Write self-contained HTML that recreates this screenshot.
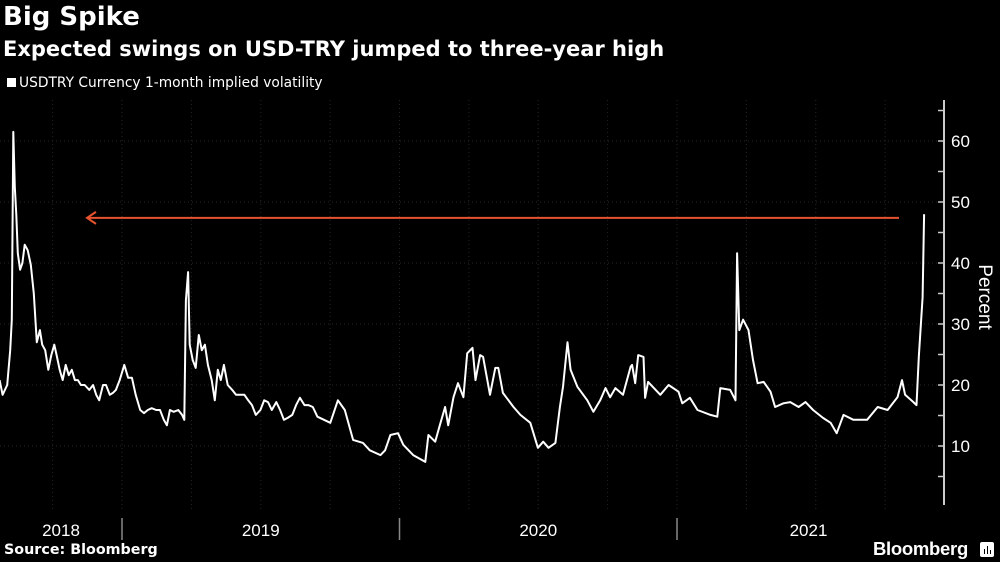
<!DOCTYPE html>
<html><head><meta charset="utf-8">
<style>
html,body{margin:0;padding:0;background:#000;}
body{width:1000px;height:562px;overflow:hidden;position:relative;font-family:"Liberation Sans",sans-serif;color:#fff;}
.t{position:absolute;white-space:nowrap;}
</style></head>
<body>
<div class="t" style="left:3px;top:2px;font-size:26px;font-weight:bold;font-family:'DejaVu Sans',sans-serif;">Big Spike</div>
<div class="t" style="left:3px;top:37px;font-size:21px;font-weight:bold;font-family:'DejaVu Sans',sans-serif;">Expected swings on USD-TRY jumped to three-year high</div>
<div class="t" style="left:7px;top:75px;font-size:13.8px;font-family:'DejaVu Sans',sans-serif;"><span style="display:inline-block;width:9px;height:9px;background:#fff;margin-right:3px;"></span>USDTRY Currency 1-month implied volatility</div>
<div class="t" style="left:4px;top:542px;font-size:14.3px;font-weight:bold;font-family:'DejaVu Sans',sans-serif;">Source: Bloomberg</div>
<div class="t" style="left:873px;top:538px;font-size:18.5px;font-weight:bold;letter-spacing:-0.3px;">Bloomberg<span style="display:inline-block;width:14px;height:15px;background:#fff;border-radius:2px;margin-left:12px;vertical-align:-2px;position:relative;"><span style="position:absolute;left:4px;bottom:3px;width:1.5px;height:5px;background:#000;"></span><span style="position:absolute;left:7px;bottom:3px;width:1.5px;height:8px;background:#000;"></span><span style="position:absolute;left:10px;bottom:3px;width:1.5px;height:4px;background:#000;"></span></span></div>
<svg id="chart" width="1000" height="562" style="position:absolute;left:0;top:0;"></svg>
<script>
const days=[-161,-157,-151,-147,-145,-143,-141,-139,-137,-134,-131,-128,-124,-120,-116,-112,-108,-105,-101,-97,-93,-89,-86,-82,-78,-74,-70,-66,-62,-58,-54,-49,-43,-38,-34,-30,-25,-21,-16,-12,-8,-3,3,8,13,18,24,29,34,39,45,50,55,59,63,68,74,79,82,84,87,89,93,97,101,105,109,113,118,122,126,130,134,139,145,150,155,161,166,171,176,182,187,192,197,203,208,213,218,224,229,234,240,245,251,257,274,284,293,304,317,326,340,346,353,363,370,383,399,403,412,418,425,429,436,442,449,454,461,465,471,475,484,491,495,501,515,524,537,547,554,561,570,576,580,586,590,599,612,620,629,636,642,649,659,669,671,675,679,686,688,692,708,719,732,737,747,757,774,783,787,800,807,809,812,817,824,830,836,844,853,859,870,879,890,899,909,922,932,940,949,962,980,994,1007,1020,1026,1030,1041,1045,1048,1053,1055];
const values=[20.8,18.4,20.0,25.7,30.7,61.5,52.5,47.9,41.6,38.9,40.0,43.0,42.1,39.7,35.0,27.0,29.0,26.6,25.7,22.5,24.9,26.6,24.9,22.5,20.8,23.3,21.6,22.5,20.8,20.8,20.0,20.0,19.2,20.0,18.4,17.5,20.0,20.0,18.4,18.7,19.2,20.8,23.3,21.2,21.2,18.4,15.9,15.4,15.9,16.2,15.9,15.9,14.3,13.4,15.9,15.6,15.9,15.1,14.3,33.9,38.5,26.6,24.1,22.8,28.2,25.7,26.6,23.3,20.8,17.5,22.5,20.8,23.3,20.0,19.2,18.4,18.4,18.4,17.5,16.7,15.1,15.9,17.5,17.2,15.9,17.2,15.9,14.3,14.6,15.1,16.7,17.9,16.7,16.7,16.4,14.8,13.8,17.5,15.9,11.0,10.5,9.3,8.5,9.3,11.8,12.1,10.2,8.5,7.4,11.8,10.7,13.4,16.4,13.4,18.0,20.3,18.0,25.2,26.1,20.8,24.9,24.6,18.4,22.8,22.8,18.7,16.4,15.1,13.8,9.7,10.7,9.7,10.5,16.4,19.7,27.0,22.5,19.7,17.5,15.6,17.5,19.5,18.0,19.5,18.4,23.0,23.3,20.3,24.9,24.6,17.9,20.5,18.4,20.0,18.9,17.0,17.9,15.9,15.1,14.8,19.5,19.2,17.5,41.6,29.0,30.7,29.0,24.1,20.3,20.5,18.9,16.4,17.0,17.2,16.4,17.2,15.9,14.6,13.8,12.1,15.1,14.3,14.3,16.4,15.9,18.0,20.8,18.4,17.2,16.7,24.6,34.4,48.0];
const yTicks=[10,20,30,40,50,60];
const yearLabels=["2018","2019","2020","2021"];
const arrowLevel=47.4;

const NS="http://www.w3.org/2000/svg";
const svg=document.getElementById('chart');
const X=d=>122+d*277.5/365;
const Y=v=>446-(v-10)*6.1;
function mk(tag,attrs){const e=document.createElementNS(NS,tag);for(const k in attrs)e.setAttribute(k,attrs[k]);svg.appendChild(e);return e;}

for(const t of yTicks){
  const g=mk('line',{x1:0,x2:944,y1:Y(t),y2:Y(t),stroke:'#262626','stroke-width':1,'stroke-dasharray':'1,3'});
  
  
}
for(let q=-2;q<12;q++){
  const x=X(q*365/4);
  if(x<5||x>940)continue;
  const g=mk('line',{x1:x,x2:x,y1:100,y2:510,stroke:'#262626','stroke-width':1,'stroke-dasharray':'1,3'});
  
  
}
const ax=mk('line',{x1:944,x2:944,y1:100,y2:505,stroke:'#ccc','stroke-width':2});


for(let v=5;v<=65;v+=5){
  const tk=mk('line',{x1:938,x2:944,y1:Y(v),y2:Y(v),stroke:'#ccc','stroke-width':1.5});
  
  
}
for(const t of yTicks){
  const tx=mk('text',{x:951,y:Y(t)+6,fill:'#fff','font-size':17,'font-family':'Liberation Sans, sans-serif'});
  tx.textContent=t;
  
  
}
const yt=mk('text',{x:0,y:0,fill:'#fff','font-size':19,'font-family':'Liberation Sans, sans-serif','text-anchor':'middle',transform:'translate(979,297) rotate(90)'});
yt.textContent='Percent';



for(let i=0;i<yearLabels.length;i++){
  const s=X((i-1)*365), e=X(i*365);
  const cs=Math.max(s,0), ce=Math.min(e,940);
  if(i>0){
    const sep=mk('line',{x1:s,x2:s,y1:518,y2:540,stroke:'#888','stroke-width':1.5});
    
    
  }
  const lb=mk('text',{x:(cs+ce)/2,y:536,fill:'#fff','font-size':17,'text-anchor':'middle','font-family':'Liberation Sans, sans-serif'});
  lb.textContent=yearLabels[i];
  
  
}

const ay=Y(arrowLevel);
const al=mk('line',{x1:87,x2:899,y1:ay,y2:ay,stroke:'#e5532f','stroke-width':2});


const ah=mk('polyline',{points:`96,${ay-6} 87,${ay} 96,${ay+6}`,fill:'none',stroke:'#e5532f','stroke-width':2});



let d='';
for(let i=0;i<days.length;i++){d+=(i?'L':'M')+X(days[i]).toFixed(1)+','+Y(values[i]).toFixed(1);}
const ln=mk('path',{d:d,fill:'none',stroke:'#fff','stroke-width':2,'stroke-linejoin':'round'});


</script>
</body></html>
